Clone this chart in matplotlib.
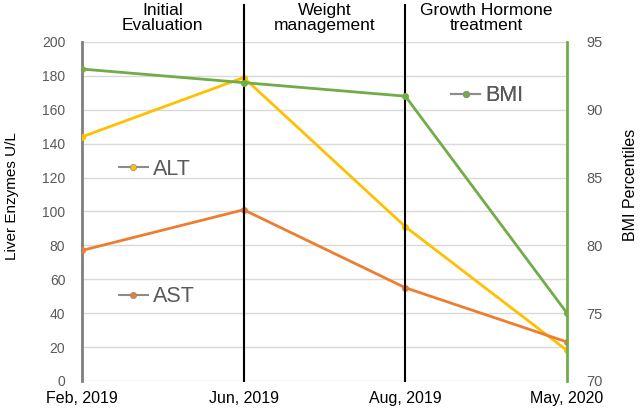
import matplotlib.pyplot as plt
from matplotlib.lines import Line2D

plt.rcParams['font.family'] = ['Liberation Sans', 'DejaVu Sans']

dates = ["Feb, 2019", "Jun, 2019", "Aug, 2019", "May, 2020"]
alt = [144, 179, 91, 18]
ast = [77, 101, 55, 23]
bmi = [93.0, 92.0, 91.0, 75.0]
phases = ["Initial\nEvaluation", "Weight\nmanagement", "Growth Hormone\ntreatment"]

c_alt = "#FFC000"
c_ast = "#ED7D31"
c_bmi = "#70AD47"
grey = "#595959"

fig = plt.figure(figsize=(6.4, 4.11), dpi=100)
ax = fig.add_axes([0.128, 0.073, 0.758, 0.825])
ax2 = ax.twinx()

x = list(range(len(dates)))
ax.plot(x, alt, color=c_alt, lw=2, marker='o', ms=4, zorder=3)
ax.plot(x, ast, color=c_ast, lw=2, marker='o', ms=4, zorder=3)
ax2.plot(x, bmi, color=c_bmi, lw=2, marker='o', ms=4, zorder=3)

ax.set_xlim(0, 3)
ax.set_ylim(0, 200)
ax.set_yticks(range(0, 201, 20))
ax2.set_ylim(70, 95)
ax2.set_yticks(range(70, 96, 5))
ax.set_xticks(x)
ax.set_xticklabels(dates, fontsize=11.5)

ax.grid(axis='y', color='#d9d9d9', lw=1)
ax.set_axisbelow(True)
for s in ['top', 'right', 'bottom']:
    ax.spines[s].set_visible(False)
for s in ['top', 'left', 'bottom']:
    ax2.spines[s].set_visible(False)
ax.spines['left'].set_color('#7f7f7f')
ax.spines['left'].set_linewidth(2)
ax2.spines['right'].set_color(c_bmi)
ax2.spines['right'].set_linewidth(2)

ax.tick_params(axis='y', length=0, labelsize=10, labelcolor=grey, pad=12)
ax.tick_params(axis='x', length=0, pad=7)
ax2.tick_params(axis='y', length=0, labelsize=10.5, labelcolor=grey, pad=14)

ax.set_ylabel("Liver Enzymes U/L", fontsize=11)
ax.yaxis.set_label_coords(-0.13, 0.546)
ax2.set_ylabel("BMI Percentiles", fontsize=11.5)
ax2.yaxis.set_label_coords(1.115, 0.578)

# phase separators running up through the header
for xv in [1, 2]:
    ax.axvline(xv, ymin=0, ymax=1.11, color='black', lw=1.5, clip_on=False, zorder=4)

for i, p in enumerate(phases):
    ax.text(i + 0.5, 1.07, p, transform=ax.get_xaxis_transform(),
            ha='center', va='center', fontsize=12.5, linespacing=1.0)

# in-plot series labels
def tag(color, label, anchor):
    h = Line2D([], [], color='#8c8c8c', lw=1.5, marker='o', ms=4.5,
               markerfacecolor=color, markeredgecolor='#8c8c8c', markeredgewidth=0.5)
    lg = ax.legend([h], [label], loc='center left', bbox_to_anchor=anchor,
                   frameon=False, fontsize=15.5, handlelength=1.35,
                   handletextpad=0.25, borderpad=0, borderaxespad=0,
                   labelcolor=grey)
    ax.add_artist(lg)

tag(c_alt, "ALT", (0.076, 0.625))
tag(c_ast, "AST", (0.076, 0.248))
tag(c_bmi, "BMI", (0.761, 0.841))

fig.savefig("out.png", dpi=100)
